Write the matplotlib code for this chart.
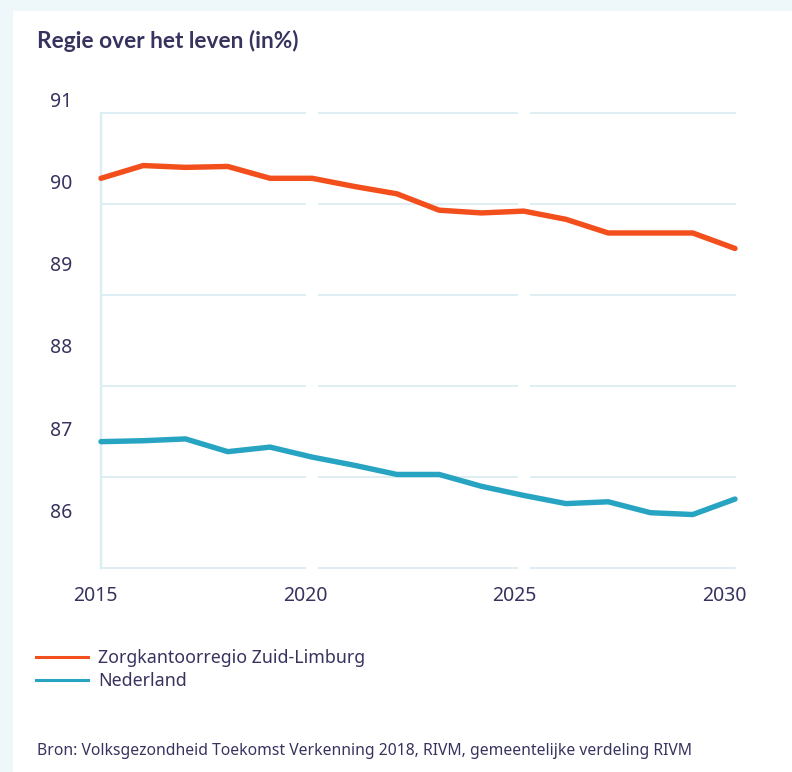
import matplotlib
matplotlib.use("Agg")
import matplotlib.pyplot as plt
import matplotlib.transforms as mtransforms
from matplotlib.patches import Rectangle
from matplotlib.lines import Line2D

# ---- data ----
years = list(range(2015, 2031))
zuid_limburg = [90.28, 90.42, 90.40, 90.41, 90.28, 90.28, 90.19, 90.11,
                89.93, 89.90, 89.92, 89.83, 89.68, 89.68, 89.68, 89.51]
nederland = [87.39, 87.40, 87.42, 87.28, 87.33, 87.22, 87.13, 87.03,
             87.03, 86.90, 86.80, 86.71, 86.73, 86.61, 86.59, 86.76]
series_names = ["Zorgkantoorregio Zuid-Limburg", "Nederland"]
y_ticks = [91, 90, 89, 88, 87, 86]
x_ticks = [2015, 2020, 2025, 2030]
title = "Regie over het leven (in%)"
source = "Bron: Volksgezondheid Toekomst Verkenning 2018, RIVM, gemeentelijke verdeling RIVM"

# ---- style ----
ORANGE = "#f24f1c"
BLUE = "#27a4c2"
TEXT = "#37335f"
GRID = "#dcedf2"
OUTER = "#eef7fa"
FONT = "Noto Sans"

W, H = 792, 772
fig = plt.figure(figsize=(W / 100, H / 100), dpi=100)
fig.patch.set_facecolor(OUTER)
fig.patches.append(Rectangle((13 / W, 0), 1 - 13 / W, (H - 11) / H,
                             transform=fig.transFigure, facecolor="white",
                             edgecolor="none", zorder=-10))

left, right, top, bottom = 101, 735, 112.7, 568.3
ax = fig.add_axes([left / W, (H - bottom) / H, (right - left) / W, (bottom - top) / H])
ax.set_zorder(5)
ax.set_facecolor("none")
for s in ax.spines.values():
    s.set_visible(False)
ax.set_xticks([])
ax.set_yticks([])
ax.set_xlim(2015, 2030)
ax.set_ylim(86, 91)

# horizontal gridlines
for v in y_ticks:
    ax.axhline(v, color=GRID, lw=1.3, zorder=1, clip_on=False)
# white vertical separators at 2020, 2025
for xv in x_ticks[1:-1]:
    ax.axvline(xv, color="white", lw=8.5, zorder=2, clip_on=False)
# left axis line
ax.axvline(2015, color=GRID, lw=1.7, zorder=3, clip_on=False)

ax.plot(years, zuid_limburg, color=ORANGE, lw=3.9, solid_capstyle="round",
        solid_joinstyle="round", zorder=5, clip_on=False)
ax.plot(years, nederland, color=BLUE, lw=3.9, solid_capstyle="round",
        solid_joinstyle="round", zorder=5, clip_on=False)

# tick labels (placed slightly off the gridlines, as in the original)
ytrans = mtransforms.blended_transform_factory(ax.transAxes, ax.transData)
for v in y_ticks:
    ax.text(-0.0453, 86.61 + (v - 86) * 0.902, str(v), transform=ytrans,
            ha="right", va="center", fontsize=14, color=TEXT, family=FONT,
            clip_on=False)
xtrans = mtransforms.blended_transform_factory(ax.transData, ax.transAxes)
for v in x_ticks:
    ax.text(2014.877 + (v - 2015) * 0.9908, -0.0608, str(v), transform=xtrans,
            ha="center", va="center", fontsize=14, color=TEXT, family=FONT,
            clip_on=False)

fig.text(36.7 / W, (H - 48.3) / H, title, fontsize=16.3, fontweight="bold",
         color=TEXT, family="Lato", va="baseline", ha="left")

handles = [Line2D([], [], color=ORANGE, lw=2.2), Line2D([], [], color=BLUE, lw=2.2)]
leg = fig.legend(handles, series_names, loc="upper left",
                 bbox_to_anchor=(36 / W, (H - 649) / H), frameon=False,
                 prop={"family": FONT, "size": 12.8}, handlelength=2.95,
                 handletextpad=0.55, labelspacing=0.28, borderaxespad=0, borderpad=0)
for t in leg.get_texts():
    t.set_color(TEXT)

fig.text(36.7 / W, (H - 755) / H, source, fontsize=11.3, color=TEXT,
         family=FONT, va="baseline", ha="left")

fig.savefig("out.png", dpi=100, facecolor=fig.get_facecolor())
